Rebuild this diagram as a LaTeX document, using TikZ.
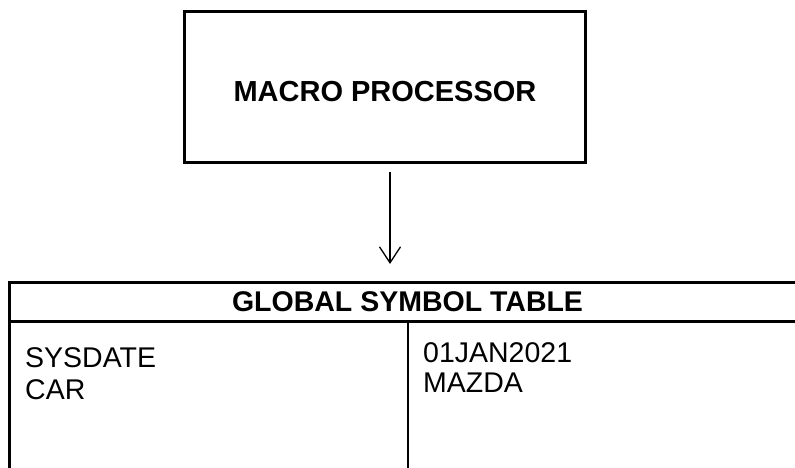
\documentclass[tikz,border=0pt]{standalone}
\usepackage{fontspec}
\setmainfont{Liberation Sans}
\usetikzlibrary{positioning}
\usetikzlibrary{arrows.meta}

\begin{document}
\begin{tikzpicture}[x=1pt,y=-1pt,
		frame/.style = {line width=2.7pt},
		arr/.style = {line width=1.3pt,-{Straight Barb[length=16pt,width=21pt,line width=1.3pt]}},
		cell/.style = {font=\fontsize{28.5}{32}\selectfont,align=left,inner sep=0pt,anchor=base west}]
		\useasboundingbox (0,0) rectangle (795,468);
		\clip (0,0) rectangle (795,468);
		% processor box
		\node[draw,frame,rectangle,minimum width = 401pt,minimum height = 151pt,inner sep=0pt,text height=29pt,text depth=0pt,font=\fontsize{29}{32}\bfseries\selectfont] at (385,87) (macro) {MACRO PROCESSOR};
		% table frame
		\coordinate (tl) at (9.5,282.5);
		\coordinate (ml) at (9.5,321.5);
		\coordinate (mid) at (407.7,321.5);
		\draw[frame] ([xshift=-1.35pt]tl) -- (tl -| 800,0);
		\draw[frame] (ml) -- (ml -| 800,0);
		\draw[frame] (tl) -- (tl |- 0,470);
		\draw[line width=2pt] (mid) -- (mid |- 0,470);
		\node[anchor=base,inner sep=0pt,font=\fontsize{28.5}{32}\bfseries\selectfont] at (407.5,311.7) (glob) {GLOBAL SYMBOL TABLE};
		% entries
		\node[cell] at (25,399) (names) {SYSDATE\\CAR};
		\node[cell,font=\fontsize{28.5}{30}\selectfont] at (423,392) (values) {01JAN2021\\MAZDA};
		% arrow
		\draw[arr,shorten <= 8.5pt,shorten >= 18.5pt] ([xshift=5pt]macro.south) -- ([xshift=5pt]macro.south |- tl);
	\end{tikzpicture}
\end{document}
